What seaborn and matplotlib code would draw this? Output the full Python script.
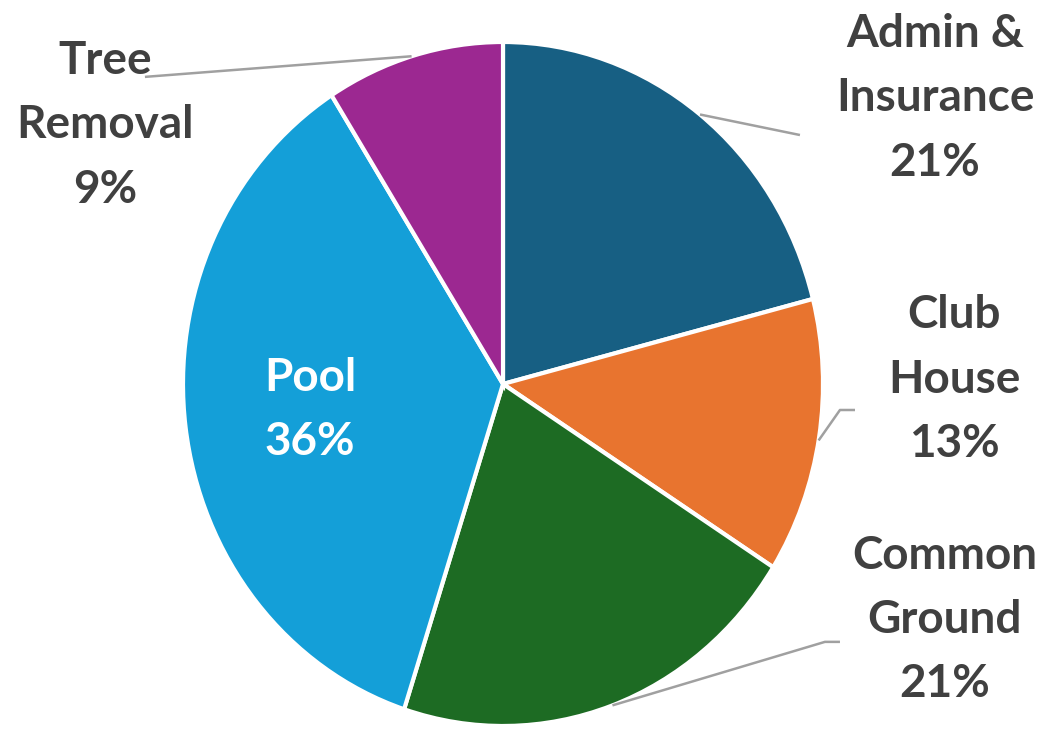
import numpy as np
import seaborn as sns
import matplotlib.pyplot as plt

# Slice data, clockwise from 12 o'clock
categories = ['Admin &\nInsurance', 'Club\nHouse', 'Common\nGround', 'Pool', 'Tree\nRemoval']
shares = [21, 13, 21, 36, 9]
colors = ['#175f83', '#e8742f', '#1d6b23', '#149fd8', '#9c2891']

# Label layout (pie radius = 1, centre = 0,0)
label_pos = [(1.35, 0.836), (1.41, 0.012), (1.381, -0.69), (-0.603, -0.076), (-1.244, 0.757)]
label_color = ['#404040', '#404040', '#404040', 'white', '#404040']
leader_angle = [52, -9.5, -70, None, 106.6]
leader_pts = [[(0.928, 0.728)],
              [(1.053, -0.076), (1.1, -0.076)],
              [(1.006, -0.754), (1.053, -0.754)],
              None,
              [(-1.119, 0.898)]]

sns.set_theme(style='white')
plt.rcParams['font.family'] = ['Lato', 'DejaVu Sans']

fig = plt.figure(figsize=(10.45, 7.36), dpi=100)
ax = fig.add_axes([0, 0, 1, 1])

ax.pie(shares, colors=colors, startangle=90, counterclock=False, radius=1,
       wedgeprops=dict(edgecolor='white', linewidth=3))

for cat, val, pos, col in zip(categories, shares, label_pos, label_color):
    ax.text(pos[0], pos[1], f'{cat}\n{val}%', ha='center', va='center',
            fontsize=33, fontweight='bold', color=col, linespacing=1.66)

for ang, pts in zip(leader_angle, leader_pts):
    if ang is None:
        continue
    a = np.deg2rad(ang)
    xs = [np.cos(a)] + [p[0] for p in pts]
    ys = [np.sin(a)] + [p[1] for p in pts]
    ax.plot(xs, ys, color='#a0a0a0', linewidth=1.8, solid_capstyle='butt')

# the reference pie is slightly squeezed horizontally
ax.set_aspect('auto')
ax.set_xlim(-503 / 320, 542 / 320)
ax.set_ylim(-352 / 342, 384 / 342)
ax.axis('off')

fig.savefig('out.png', dpi=100)
